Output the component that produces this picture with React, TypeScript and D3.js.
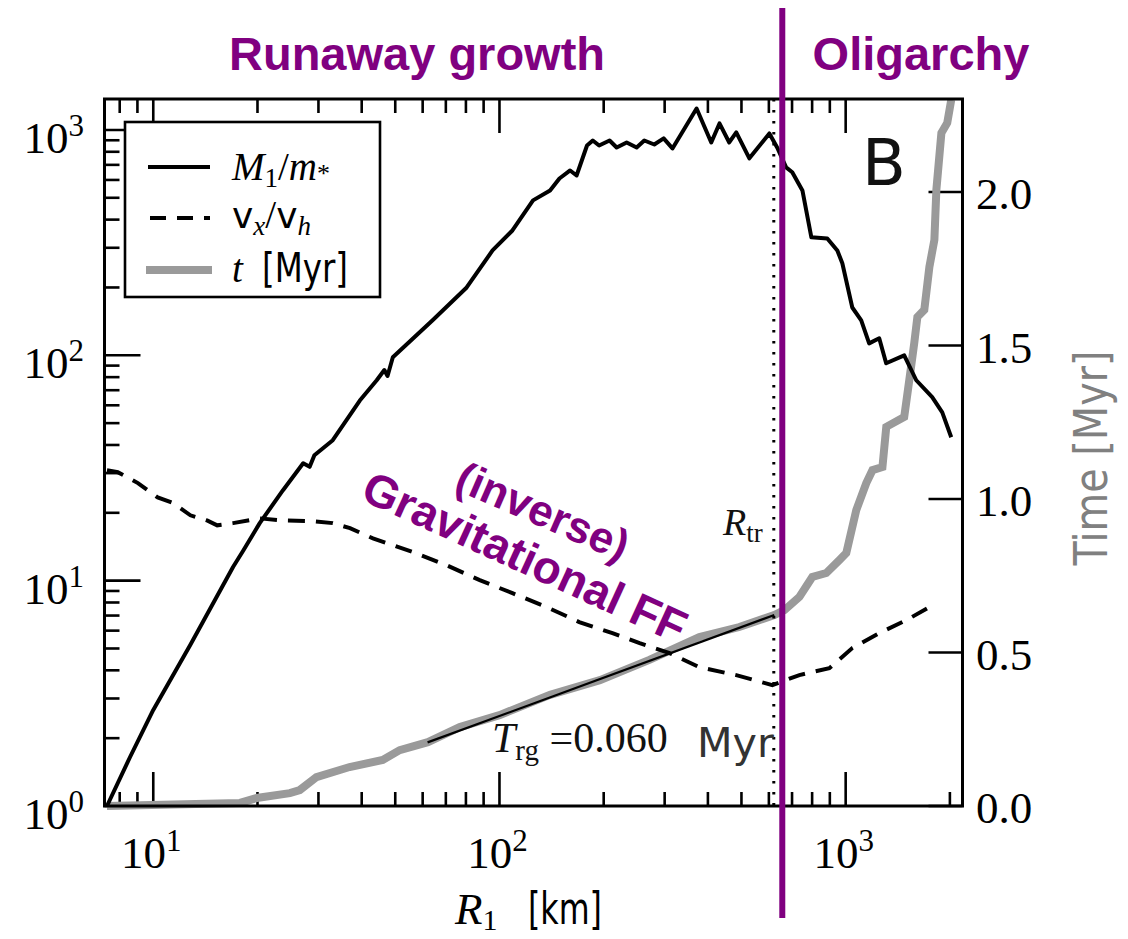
import React from "react";
import * as d3 from "d3";

// Largest-body mass ratio M1/m* versus radius R1 [km]
const massCurve: [number, number][] = [
  [7.35, 1.0], [8.57, 1.65], [10.0, 2.67], [12.8, 5.2], [17.0, 11.5], [18.2, 13.6],
  [20.3, 18.0], [23.7, 25.2], [27.1, 33.2], [28.3, 32.0], [29.2, 36.0], [33.0, 42.0],
  [39.5, 63], [44.2, 77.5], [46.5, 86], [47.5, 81], [49.2, 98], [64.1, 143],
  [80.4, 200], [95.5, 292], [109, 358], [125, 487], [140, 539], [149, 609],
  [160, 661], [167, 628], [179, 853], [186, 898], [194, 853], [208, 898],
  [218, 836], [233, 880], [249, 836], [262, 898], [280, 862], [298, 917],
  [316, 828], [371, 1245], [409, 880], [432, 1069], [461, 880], [483, 975],
  [527, 748], [602, 965], [634, 836], [673, 682], [701, 649], [750, 539],
  [796, 334], [885, 330], [946, 292], [978, 256], [1045, 163], [1109, 143],
  [1169, 113], [1250, 119], [1309, 92.2], [1476, 100], [1599, 77.5],
  [1778, 65.2], [1901, 55.8], [2018, 43.3],
];

// Velocity dispersion ratio v_x / v_h
const velocityCurve: [number, number][] = [
  [7.35, 30.9], [7.9, 30.3], [9.03, 27.1], [10.3, 23.4], [11.4, 22.1], [12.8, 19.5],
  [14.3, 18.5], [15.3, 17.6], [17.0, 18.0], [20.3, 18.9], [23.7, 18.5], [28.3, 18.4],
  [33.0, 18.0], [37.0, 17.1], [43.1, 15.4], [56.1, 13.4], [70.4, 11.7], [87.7, 10.05],
  [109, 8.8], [137, 7.63], [170, 6.55], [212, 5.85], [254, 5.28], [310, 4.77],
  [378, 4.13], [483, 3.81], [614, 3.44], [735, 3.81], [897, 4.09], [1045, 5.02],
  [1250, 5.85], [1497, 6.68], [1828, 7.94],
];

// Elapsed time t [Myr]
const timeCurve: [number, number][] = [
  [7.35, 0.0], [17.8, 0.01], [19.9, 0.026], [24.8, 0.042], [26.5, 0.052], [29.6, 0.094],
  [36.9, 0.127], [46.0, 0.15], [51.5, 0.182], [62.1, 0.208], [76.8, 0.257], [100, 0.296],
  [140, 0.362], [195, 0.41], [271, 0.476], [378, 0.55], [493, 0.583], [622, 0.622],
  [665, 0.638], [735, 0.681], [801, 0.746], [879, 0.759], [959, 0.801], [1004, 0.824],
  [1073, 0.964], [1147, 1.052], [1195, 1.094], [1277, 1.104], [1310, 1.235], [1476, 1.267],
  [1527, 1.388], [1578, 1.508], [1611, 1.593], [1687, 1.616], [1745, 1.756], [1804, 1.844],
  [1828, 2.007], [1890, 2.192], [1965, 2.225], [2018, 2.3],
];

// Runaway-growth fit t = 3 T_rg ln(R / R0)
const T_RG = 0.06;
const FIT_R0 = 19.6;
const fitRange = [62, 622];
const R_TR = 620;
const PHASE_SPLIT_R = 656;

const leftTicks = [1, 10, 100, 1000];
const bottomTicks = [10, 100, 1000];
const rightTicks = [0, 0.5, 1.0, 1.5, 2.0];
const legendLabels = ["M1/m*", "vx/vh", "t [Myr]"];
const phaseLabels = ["Runaway growth", "Oligarchy"];

const X0 = 104.5, X1 = 962.5, Y0 = 99, Y1 = 806;
const x = d3.scaleLog().domain([7.23, 2175]).range([X0, X1]);
const y = d3.scaleLog().domain([1, 1372]).range([Y1, Y0]);
const yT = d3.scaleLinear().domain([0, 2.303]).range([Y1, Y0]);

const PURPLE = "#800080";
const GRAY = "#9a9a9a";
const SERIF = "'Liberation Serif', 'Times New Roman', serif";
const SANS = "'DejaVu Sans', sans-serif";
const BOLD_SANS = "'Liberation Sans', Arial, sans-serif";

function minorLogTicks(lo: number, hi: number): number[] {
  const out: number[] = [];
  for (let e = 0; e <= 4; e++) {
    for (let m = 1; m <= 9; m++) {
      const v = m * Math.pow(10, e);
      if (v >= lo && v <= hi) out.push(v);
    }
  }
  return out;
}

export default function App() {
  const massLine = d3.line<[number, number]>().x((d) => x(d[0])).y((d) => y(d[1]));
  const timeLine = d3.line<[number, number]>().x((d) => x(d[0])).y((d) => yT(d[1]));
  const fitPts: [number, number][] = fitRange.map((r) => [r, 3 * T_RG * Math.log(r / FIT_R0)]);

  const xMinor = minorLogTicks(7.23, 2175).filter((v) => !bottomTicks.includes(v));
  const yMinor = minorLogTicks(1, 1372).filter((v) => !leftTicks.includes(v));

  return (
    <svg width={1128} height={939} style={{ position: "absolute", left: 0, top: 0, background: "#fff" }}>
      <rect x={0} y={0} width={1128} height={939} fill="#fff" />

      {/* ticks */}
      <g stroke="#000" strokeWidth={2.6}>
        {bottomTicks.map((v) => (
          <g key={"bx" + v}>
            <line x1={x(v)} x2={x(v)} y1={Y1} y2={Y1 - 34} />
            <line x1={x(v)} x2={x(v)} y1={Y0} y2={Y0 + 34} />
          </g>
        ))}
        {xMinor.map((v) => (
          <g key={"bm" + v}>
            <line x1={x(v)} x2={x(v)} y1={Y1} y2={Y1 - 14} />
            <line x1={x(v)} x2={x(v)} y1={Y0} y2={Y0 + 14} />
          </g>
        ))}
        {leftTicks.map((v) => (
          <line key={"ly" + v} x1={X0} x2={X0 + 36} y1={y(v)} y2={y(v)} />
        ))}
        {yMinor.map((v) => (
          <line key={"lm" + v} x1={X0} x2={X0 + 15} y1={y(v)} y2={y(v)} />
        ))}
        {rightTicks.map((v) => (
          <line key={"rt" + v} x1={X1} x2={X1 - 34} y1={yT(v)} y2={yT(v)} />
        ))}
      </g>

      {/* tick labels */}
      <g fontFamily={SERIF} fill="#000">
        {leftTicks.map((v) => (
          <text key={"ll" + v} x={84} y={y(v) + 23} fontSize={45} textAnchor="end">
            10<tspan fontSize={31} dy={-17}>{Math.round(Math.log10(v))}</tspan>
          </text>
        ))}
        {bottomTicks.map((v) => (
          <text key={"bl" + v} x={x(v) - 2} y={868} fontSize={45} textAnchor="middle">
            10<tspan fontSize={31} dy={-17}>{Math.round(Math.log10(v))}</tspan>
          </text>
        ))}
        {rightTicks.map((v) => (
          <text key={"rl" + v} x={976} y={yT(v) + 17} fontSize={45}>
            {d3.format(".1f")(v)}
          </text>
        ))}
      </g>

      {/* axis titles */}
      <text x={455} y={924} fontSize={45} fontFamily={SERIF}>
        <tspan fontStyle="italic">R</tspan>
        <tspan fontSize={30} dy={6}>1</tspan>
      </text>
      <text x={528} y={924} fontSize={44} fontFamily={SANS} textLength={74} lengthAdjust="spacingAndGlyphs">
        [km]
      </text>
      <text
        transform="translate(1107,458) rotate(-90)"
        fontSize={46}
        fontFamily={SANS}
        fill="#808080"
        textAnchor="middle"
        textLength={215}
        lengthAdjust="spacingAndGlyphs"
      >
        Time [Myr]
      </text>

      {/* data */}
      <path d={timeLine(timeCurve) || ""} fill="none" stroke={GRAY} strokeWidth={8} strokeLinejoin="miter" />
      <path d={timeLine(fitPts) || ""} fill="none" stroke="#000" strokeWidth={2.2} />
      <path d={massLine(massCurve) || ""} fill="none" stroke="#000" strokeWidth={4} strokeLinejoin="round" />
      <path
        d={massLine(velocityCurve) || ""}
        fill="none"
        stroke="#000"
        strokeWidth={4}
        strokeDasharray="17 11"
      />

      {/* transition radius */}
      <line x1={x(R_TR)} x2={x(R_TR)} y1={Y0} y2={Y1} stroke="#000" strokeWidth={3} strokeDasharray="2.5 8.5" />
      <text x={723} y={535} fontFamily={SERIF} fontSize={38} fill="#111">
        <tspan fontStyle="italic">R</tspan>
        <tspan fontSize={27} dy={7}>tr</tspan>
      </text>

      <text x={492} y={752} fontFamily={SERIF} fontSize={42} fill="#111">
        <tspan fontStyle="italic">T</tspan>
        <tspan fontSize={29} dy={8}>rg</tspan>
        <tspan dy={-8}>{" =" + d3.format(".3f")(T_RG)}</tspan>
      </text>
      <text x={697} y={757} fontFamily={SANS} fontSize={40} fill="#333" textLength={77} lengthAdjust="spacingAndGlyphs">
        Myr
      </text>

      {/* frame */}
      <rect x={X0} y={Y0} width={X1 - X0} height={Y1 - Y0} fill="none" stroke="#000" strokeWidth={3} />

      {/* legend */}
      <rect x={125} y={122} width={255} height={175} fill="#fff" stroke="#000" strokeWidth={2.6} />
      <line x1={148} x2={210} y1={167} y2={167} stroke="#000" strokeWidth={4} />
      <line x1={150} x2={210} y1={218} y2={218} stroke="#000" strokeWidth={4} strokeDasharray="16 11" />
      <line x1={146} x2={212} y1={270} y2={270} stroke={GRAY} strokeWidth={8} />
      <text x={232} y={180} fontFamily={SERIF} fontSize={39} aria-label={legendLabels[0]}>
        <tspan fontStyle="italic">M</tspan>
        <tspan fontSize={27} dy={7}>1</tspan>
        <tspan dy={-7}>/</tspan>
        <tspan fontStyle="italic">m</tspan>
        <tspan fontSize={26} dy={2}>*</tspan>
      </text>
      <text x={232} y={228} fontFamily={SERIF} fontSize={39} aria-label={legendLabels[1]}>
        <tspan fontFamily={SANS} fontSize={36}>v</tspan>
        <tspan fontStyle="italic" fontSize={27} dy={7}>x</tspan>
        <tspan dy={-7}>/</tspan>
        <tspan fontFamily={SANS} fontSize={36}>v</tspan>
        <tspan fontStyle="italic" fontSize={27} dy={7}>h</tspan>
      </text>
      <text x={232} y={282} fontFamily={SERIF} fontSize={39} fontStyle="italic" aria-label={legendLabels[2]}>
        t
      </text>
      <text x={262} y={282} fontFamily={SANS} fontSize={40} textLength={86} lengthAdjust="spacingAndGlyphs">
        [Myr]
      </text>

      <text x={862} y={185} fontFamily={SANS} fontSize={64} fill="#111">
        B
      </text>

      {/* phase annotations */}
      <line x1={x(PHASE_SPLIT_R)} x2={x(PHASE_SPLIT_R)} y1={8} y2={918} stroke={PURPLE} strokeWidth={6} />
      <text x={417} y={70} fontFamily={BOLD_SANS} fontWeight="bold" fontSize={47} fill={PURPLE} textAnchor="middle">
        {phaseLabels[0]}
      </text>
      <text x={921} y={70} fontFamily={BOLD_SANS} fontWeight="bold" fontSize={47} fill={PURPLE} textAnchor="middle">
        {phaseLabels[1]}
      </text>
      <text
        transform="translate(543,511) rotate(23.5)"
        fontFamily={BOLD_SANS}
        fontWeight="bold"
        fontSize={44}
        fill={PURPLE}
        textAnchor="middle"
        dominantBaseline="central"
      >
        (inverse)
      </text>
      <text
        transform="translate(525,557) rotate(24.5)"
        fontFamily={BOLD_SANS}
        fontWeight="bold"
        fontSize={46}
        fill={PURPLE}
        textAnchor="middle"
        dominantBaseline="central"
      >
        Gravitational FF
      </text>
    </svg>
  );
}
